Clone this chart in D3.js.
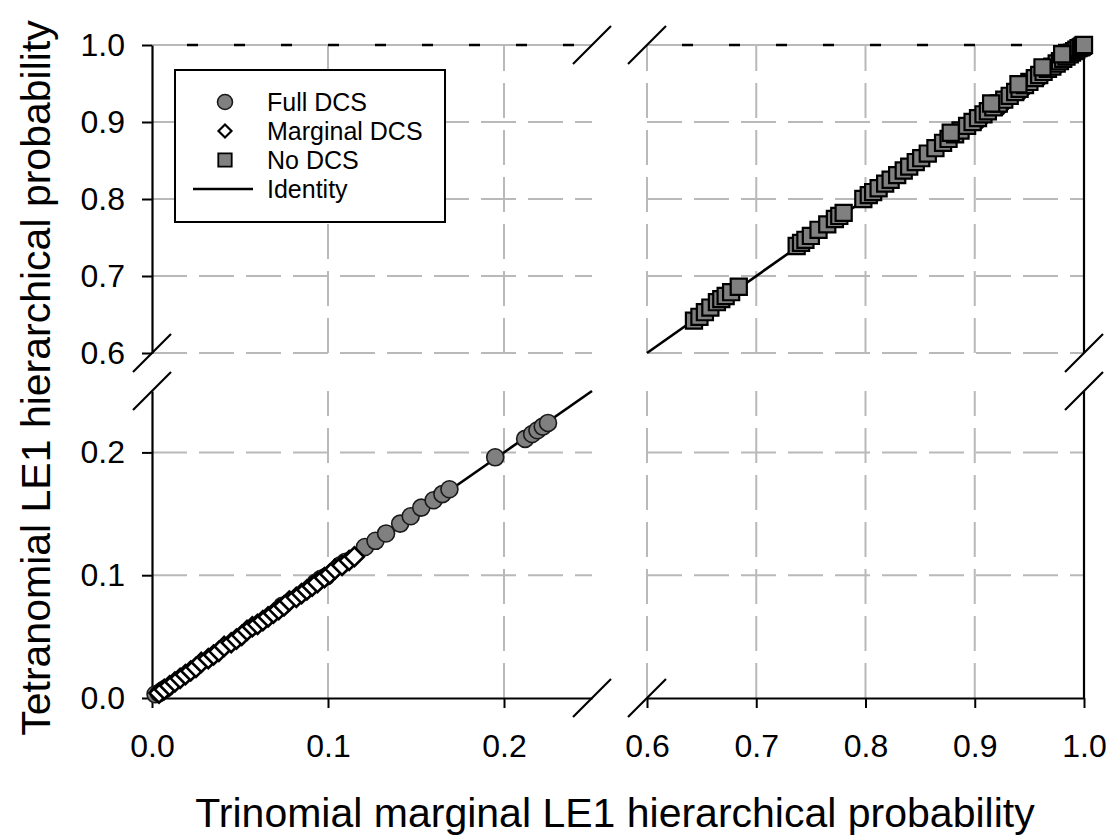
<!DOCTYPE html>
<html>
<head>
<meta charset="utf-8">
<script src="https://cdn.jsdelivr.net/npm/d3@7"></script>
<style>
  body { margin: 0; background: #fff; }
  svg { font-family: "Liberation Sans", Arial, sans-serif; }
</style>
</head>
<body>
<svg id="chart" width="1112" height="837"></svg>
<script>
// Full DCS (серые кружки), нижняя левая панель
const fullX = [0.002, 0.004, 0.006, 0.008, 0.074, 0.093, 0.096, 0.099, 0.107, 0.110,
               0.121, 0.127, 0.133, 0.141, 0.147, 0.153, 0.160, 0.165, 0.169,
               0.195, 0.212, 0.216, 0.219, 0.222, 0.225];
const fullY = [0.003, 0.004, 0.006, 0.008, 0.075, 0.094, 0.097, 0.099, 0.108, 0.111,
               0.123, 0.128, 0.134, 0.142, 0.148, 0.155, 0.161, 0.166, 0.170,
               0.196, 0.211, 0.215, 0.218, 0.221, 0.224];

// Marginal DCS (белые ромбы)
const margX = [0.004, 0.007, 0.010, 0.013, 0.016, 0.019, 0.022, 0.025, 0.028, 0.032,
               0.035, 0.038, 0.041, 0.045, 0.048, 0.051, 0.054, 0.057, 0.060, 0.063,
               0.066, 0.069, 0.072, 0.075, 0.078, 0.082, 0.085, 0.088, 0.091, 0.094,
               0.098, 0.101, 0.104, 0.108, 0.112, 0.115,
               0.905, 0.925, 0.945, 0.962, 0.978];
const margY = [0.004, 0.007, 0.010, 0.013, 0.016, 0.019, 0.022, 0.025, 0.029, 0.032,
               0.035, 0.038, 0.042, 0.045, 0.048, 0.051, 0.055, 0.058, 0.060, 0.063,
               0.066, 0.069, 0.072, 0.075, 0.079, 0.082, 0.085, 0.088, 0.091, 0.094,
               0.098, 0.101, 0.105, 0.108, 0.112, 0.115,
               0.903, 0.922, 0.943, 0.960, 0.976];

// No DCS (серые квадраты), верхняя правая панель
const noX = [0.643, 0.648, 0.653, 0.658, 0.664, 0.668, 0.672, 0.677, 0.684,
             0.737, 0.741, 0.745, 0.750, 0.757, 0.765, 0.772, 0.776, 0.780,
             0.798, 0.803, 0.807, 0.812, 0.818, 0.823, 0.829, 0.835, 0.840, 0.846,
             0.851, 0.857, 0.864, 0.871, 0.876, 0.882, 0.887, 0.893, 0.898, 0.903,
             0.908, 0.912, 0.917, 0.922, 0.927, 0.932, 0.937, 0.941, 0.946, 0.950,
             0.955, 0.959, 0.963, 0.967, 0.971, 0.975, 0.978, 0.981, 0.984, 0.987,
             0.989, 0.991, 0.993, 0.995, 0.997, 0.998, 0.999, 1.000,
             0.878, 0.915, 0.940, 0.962, 0.980];
const noY = [0.642, 0.647, 0.653, 0.659, 0.666, 0.670, 0.674, 0.679, 0.686,
             0.739, 0.743, 0.747, 0.752, 0.760, 0.767, 0.774, 0.778, 0.782,
             0.800, 0.805, 0.809, 0.814, 0.820, 0.825, 0.831, 0.837, 0.842, 0.848,
             0.853, 0.859, 0.866, 0.873, 0.878, 0.884, 0.889, 0.895, 0.900, 0.905,
             0.910, 0.914, 0.919, 0.924, 0.929, 0.934, 0.939, 0.943, 0.948, 0.952,
             0.957, 0.961, 0.965, 0.969, 0.972, 0.976, 0.979, 0.982, 0.985, 0.988,
             0.990, 0.992, 0.994, 0.996, 0.997, 0.998, 0.999, 1.000,
             0.886, 0.924, 0.949, 0.971, 0.988];

const legendItems = ["Full DCS", "Marginal DCS", "No DCS", "Identity"];
const xTicksLow = [0.0, 0.1, 0.2];
const xTicksHigh = [0.6, 0.7, 0.8, 0.9, 1.0];
const yTicksLow = [0.0, 0.1, 0.2];
const yTicksHigh = [0.6, 0.7, 0.8, 0.9, 1.0];
const xDomLow = [0, 0.25], xDomHigh = [0.6, 1.0];
const yDomLow = [0, 0.25], yDomHigh = [0.6, 1.0];

const svg = d3.select("#chart");

// шкалы для разорванных осей
const xLow = d3.scaleLinear().domain(xDomLow).range([152, 592]);
const xHigh = d3.scaleLinear().domain(xDomHigh).range([647, 1084]);
const yLow = d3.scaleLinear().domain(yDomLow).range([698, 391]);
const yHigh = d3.scaleLinear().domain(yDomHigh).range([353, 45]);

const gridColor = "#b9b9b9";
const grid = svg.append("g")
    .attr("stroke", gridColor)
    .attr("stroke-width", 2)
    .attr("stroke-dasharray", "35,12");

// сетка: все четыре панели
[[xLow, yLow], [xLow, yHigh], [xHigh, yLow], [xHigh, yHigh]].forEach(([sx, sy]) => {
    const xt = sx === xLow ? [0.1, 0.2] : [0.6, 0.7, 0.8, 0.9];
    const yt = sy === yLow ? [0.1, 0.2] : [0.6, 0.7, 0.8, 0.9];
    const [y0, y1] = sy.range();
    const [x0, x1] = sx.range();
    xt.forEach(v => grid.append("line")
        .attr("x1", sx(v)).attr("x2", sx(v)).attr("y1", y0).attr("y2", y1));
    yt.forEach(v => grid.append("line")
        .attr("x1", x0).attr("x2", x1).attr("y1", sy(v)).attr("y2", sy(v)));
});

// верхняя граница: серая линия + чёрный пунктир
[xLow, xHigh].forEach(sx => {
    const [x0, x1] = sx.range();
    svg.append("line")
        .attr("x1", x0).attr("x2", x1).attr("y1", yHigh(1)).attr("y2", yHigh(1))
        .attr("stroke", gridColor).attr("stroke-width", 2);
    svg.append("line")
        .attr("x1", x0 + 35).attr("x2", x1).attr("y1", yHigh(1)).attr("y2", yHigh(1))
        .attr("stroke", "#000").attr("stroke-width", 2.5)
        .attr("stroke-dasharray", "11,36");
});

// оси
function styleAxis(g) {
    g.selectAll("path").attr("stroke", "#000").attr("stroke-width", 2.2);
    g.selectAll("line").attr("stroke", "#000").attr("stroke-width", 2);
    g.selectAll("text").attr("font-size", 32).attr("fill", "#000")
        .attr("font-family", "'Liberation Sans', Arial, sans-serif");
}
const fmt = d3.format(".1f");

svg.append("g").attr("transform", "translate(0,698)")
    .call(d3.axisBottom(xLow).tickValues(xTicksLow).tickFormat(fmt)
        .tickSizeInner(10).tickSizeOuter(0).tickPadding(26))
    .call(styleAxis);
svg.append("g").attr("transform", "translate(0,698)")
    .call(d3.axisBottom(xHigh).tickValues(xTicksHigh).tickFormat(fmt)
        .tickSizeInner(10).tickSizeOuter(0).tickPadding(26))
    .call(styleAxis);
svg.append("g").attr("transform", "translate(152,0)")
    .call(d3.axisLeft(yLow).tickValues(yTicksLow).tickFormat(fmt)
        .tickSizeInner(10).tickSizeOuter(0).tickPadding(17))
    .call(styleAxis);
svg.append("g").attr("transform", "translate(152,0)")
    .call(d3.axisLeft(yHigh).tickValues(yTicksHigh).tickFormat(fmt)
        .tickSizeInner(10).tickSizeOuter(0).tickPadding(17))
    .call(styleAxis);
// правая граница
[yLow, yHigh].forEach(sy => {
    svg.append("line")
        .attr("x1", 1084).attr("x2", 1084).attr("y1", sy.range()[0]).attr("y2", sy.range()[1])
        .attr("stroke", "#000").attr("stroke-width", 2.2);
});

// знаки разрыва "/"
const breaks = [
    [xLow(0.25), yLow(0)], [xHigh(0.6), yLow(0)],
    [xLow(0.25), yHigh(1)], [xHigh(0.6), yHigh(1)],
    [xLow(0), yHigh(0.6)], [xLow(0), yLow(0.25)],
    [xHigh(1), yHigh(0.6)], [xHigh(1), yLow(0.25)]
];
breaks.forEach(([cx, cy]) => {
    svg.append("line")
        .attr("x1", cx - 19).attr("y1", cy + 19).attr("x2", cx + 19).attr("y2", cy - 19)
        .attr("stroke", "#000").attr("stroke-width", 2.2);
});

// линия тождества
svg.append("line")
    .attr("x1", xLow(0)).attr("y1", yLow(0)).attr("x2", xLow(0.25)).attr("y2", yLow(0.25))
    .attr("stroke", "#000").attr("stroke-width", 2.6);
svg.append("line")
    .attr("x1", xHigh(0.6)).attr("y1", yHigh(0.6)).attr("x2", xHigh(1)).attr("y2", yHigh(1))
    .attr("stroke", "#000").attr("stroke-width", 2.6);

// выбор шкал по значению
const sxOf = v => v <= 0.25 ? xLow(v) : xHigh(v);
const syOf = v => v <= 0.25 ? yLow(v) : yHigh(v);

const pts = (xs, ys) => xs.map((x, i) => ({ x: x, y: ys[i] }));
const diamondPath = r => `M0,${-r}L${r},0L0,${r}L${-r},0Z`;
const square = d3.symbol().type(d3.symbolSquare).size(260);

svg.append("g").selectAll("circle")
    .data(pts(fullX, fullY)).enter().append("circle")
    .attr("cx", d => sxOf(d.x)).attr("cy", d => syOf(d.y)).attr("r", 8.5)
    .attr("fill", "#808080").attr("stroke", "#1a1a1a").attr("stroke-width", 1.6);

svg.append("g").selectAll("path")
    .data(pts(margX, margY)).enter().append("path")
    .attr("d", diamondPath(9.5))
    .attr("transform", d => `translate(${sxOf(d.x)},${syOf(d.y)})`)
    .attr("fill", "#fff").attr("stroke", "#000").attr("stroke-width", 2.6);

svg.append("g").selectAll("path")
    .data(pts(noX, noY)).enter().append("path")
    .attr("d", square)
    .attr("transform", d => `translate(${sxOf(d.x)},${syOf(d.y)})`)
    .attr("fill", "#808080").attr("stroke", "#000").attr("stroke-width", 2.2);

// легенда
const lg = svg.append("g");
lg.append("rect").attr("x", 175).attr("y", 70).attr("width", 270).attr("height", 152)
    .attr("fill", "#fff").attr("stroke", "#000").attr("stroke-width", 2);
const rowY = [102, 131, 160, 189];
lg.append("circle").attr("cx", 225).attr("cy", rowY[0]).attr("r", 7.5)
    .attr("fill", "#808080").attr("stroke", "#1a1a1a").attr("stroke-width", 1.6);
lg.append("path").attr("d", diamondPath(6.5))
    .attr("transform", `translate(225,${rowY[1]})`)
    .attr("fill", "#fff").attr("stroke", "#000").attr("stroke-width", 2.2);
lg.append("path").attr("d", d3.symbol().type(d3.symbolSquare).size(180))
    .attr("transform", `translate(225,${rowY[2]})`)
    .attr("fill", "#808080").attr("stroke", "#000").attr("stroke-width", 1.8);
lg.append("line").attr("x1", 193).attr("x2", 253).attr("y1", rowY[3]).attr("y2", rowY[3])
    .attr("stroke", "#000").attr("stroke-width", 2.6);
lg.selectAll("text").data(legendItems).enter().append("text")
    .attr("x", 267).attr("y", (d, i) => rowY[i] + 9)
    .attr("font-size", 25).text(d => d);

// подписи осей
svg.append("text")
    .attr("x", 615).attr("y", 827).attr("text-anchor", "middle")
    .attr("font-size", 41).text("Trinomial marginal LE1 hierarchical probability");
svg.append("text")
    .attr("transform", "translate(50,378) rotate(-90)").attr("text-anchor", "middle")
    .attr("font-size", 41).text("Tetranomial LE1 hierarchical probability");
</script>
</body>
</html>
